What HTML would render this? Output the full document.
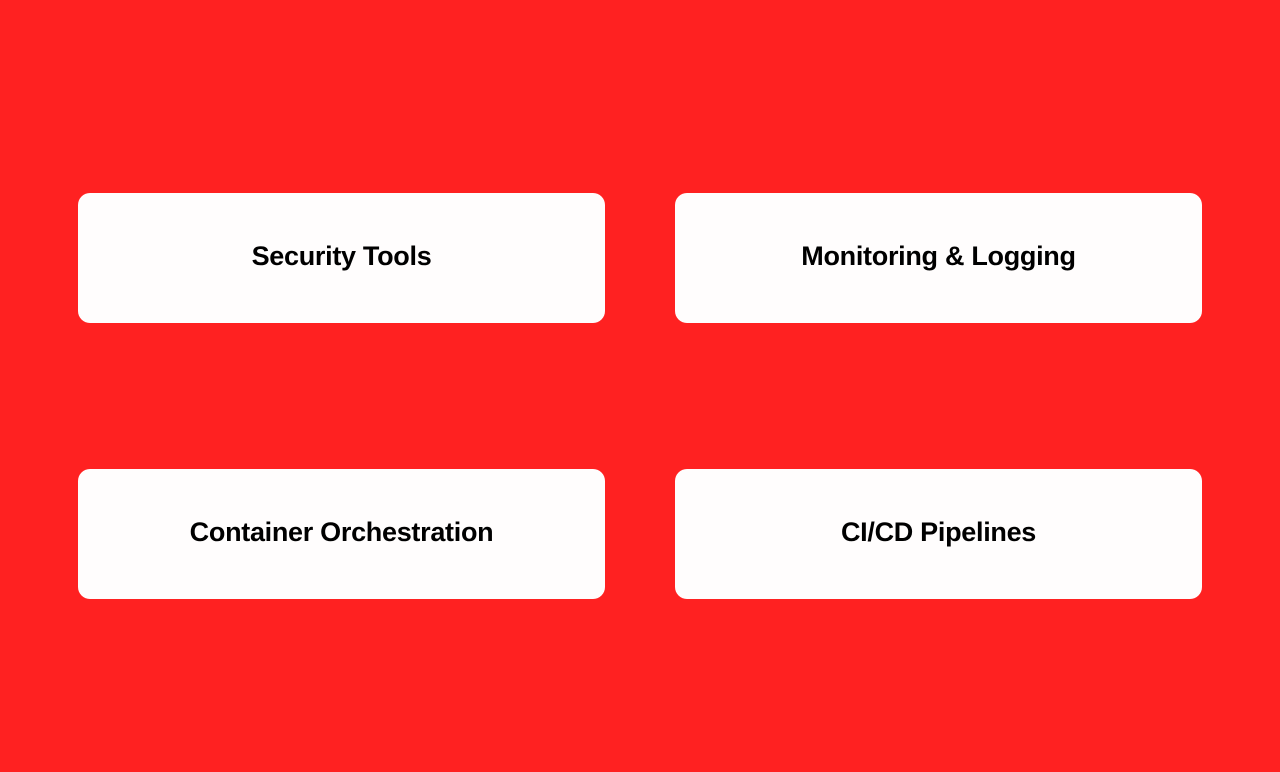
<!DOCTYPE html>
<html><head><meta charset="utf-8"><style>
html,body{margin:0;padding:0;}
body{width:1280px;height:772px;background:#ff2121;position:relative;overflow:hidden;font-family:"Liberation Sans",sans-serif;}
.b{position:absolute;width:527px;height:130px;background:#fffdfd;border-radius:12px;display:flex;align-items:center;justify-content:center;font-weight:bold;font-size:27px;color:#000;letter-spacing:-0.3px;padding-bottom:4px;box-sizing:border-box;}
</style></head><body>
<div class="b" style="left:78px;top:193px">Security Tools</div>
<div class="b" style="left:675px;top:193px">Monitoring &amp; Logging</div>
<div class="b" style="left:78px;top:469px">Container Orchestration</div>
<div class="b" style="left:675px;top:469px">CI/CD Pipelines</div>
</body></html>
